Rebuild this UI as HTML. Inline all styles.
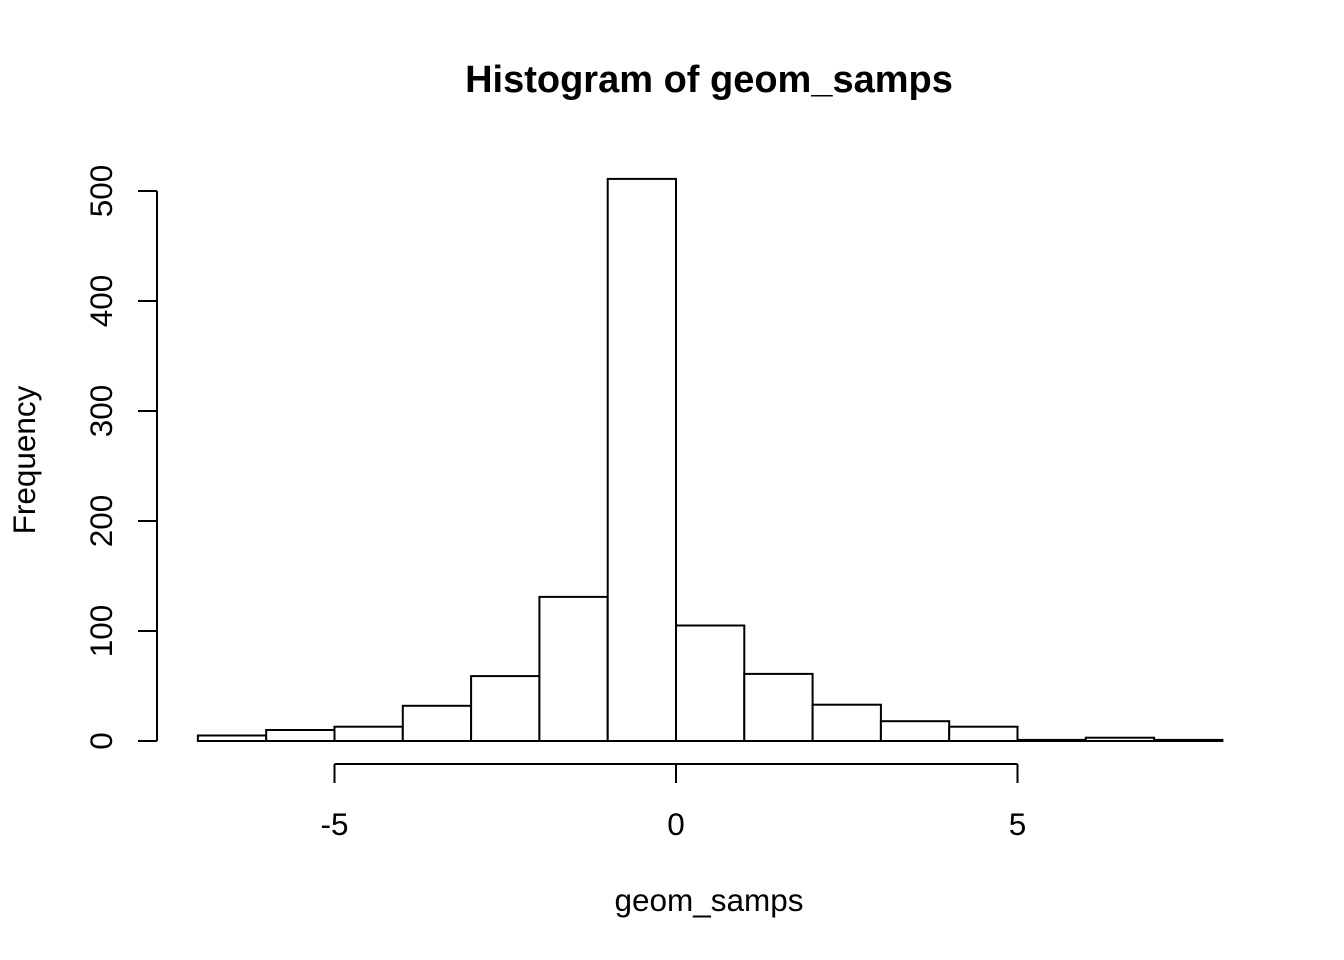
<!DOCTYPE html>
<html><head><meta charset="utf-8"><style>
html,body{margin:0;padding:0;background:#fff;}
svg{display:block;font-family:"Liberation Sans",Arial,sans-serif;}
</style></head><body>
<svg id="chart" width="1344" height="960">
<text x="709" y="92" text-anchor="middle" font-size="38" font-weight="bold">Histogram of geom_samps</text>
<text x="709" y="911" text-anchor="middle" font-size="31.5">geom_samps</text>
<text transform="translate(35,460) rotate(-90)" text-anchor="middle" font-size="31.5">Frequency</text>
<g id="bars"></g><g id="xaxis"></g><g id="yaxis"></g>
</svg>
<script>
const binEdges = [-7,-6,-5,-4,-3,-2,-1,0,1,2,3,4,5,6,7,8];
const counts = [5,10,13,32,59,131,511,105,61,33,18,13,1,3,1];
const xTicks = [-5,0,5];
const yTicks = [0,100,200,300,400,500];
const xs = v => 676 + v*68.3;
const ys = v => 741 - v*1.1;
const NS='http://www.w3.org/2000/svg';
function mk(t,a,p){const e=document.createElementNS(NS,t);for(const k in a)e.setAttribute(k,a[k]);p.appendChild(e);return e;}
const bars=document.getElementById('bars');
counts.forEach((c,i)=>{
  const x0=xs(binEdges[i]),x1=xs(binEdges[i+1]);
  const r=mk('rect',{x:x0,y:ys(c),width:x1-x0,height:ys(0)-ys(c),fill:'#fff',stroke:'#000','stroke-width':2},bars);
  
  
});
const xa=document.getElementById('xaxis');


mk('line',{x1:xs(xTicks[0]),x2:xs(xTicks[xTicks.length-1]),y1:764,y2:764,stroke:'#000','stroke-width':2},xa);
xTicks.forEach(t=>{
  mk('line',{x1:xs(t),x2:xs(t),y1:764,y2:783,stroke:'#000','stroke-width':2},xa);
  const tx=mk('text',{x:xs(t),y:835,'text-anchor':'middle','font-size':31.5},xa);
  tx.textContent=t<0?'-'+Math.abs(t):String(t);
  
  
});
const ya=document.getElementById('yaxis');


mk('line',{x1:157,x2:157,y1:ys(yTicks[0]),y2:ys(yTicks[yTicks.length-1]),stroke:'#000','stroke-width':2},ya);
yTicks.forEach(t=>{
  mk('line',{x1:138,x2:157,y1:ys(t),y2:ys(t),stroke:'#000','stroke-width':2},ya);
  const tx=mk('text',{transform:`translate(112,${ys(t)}) rotate(-90)`,'text-anchor':'middle','font-size':31.5},ya);
  tx.textContent=String(t);
  
  
});
</script>
</body></html>
